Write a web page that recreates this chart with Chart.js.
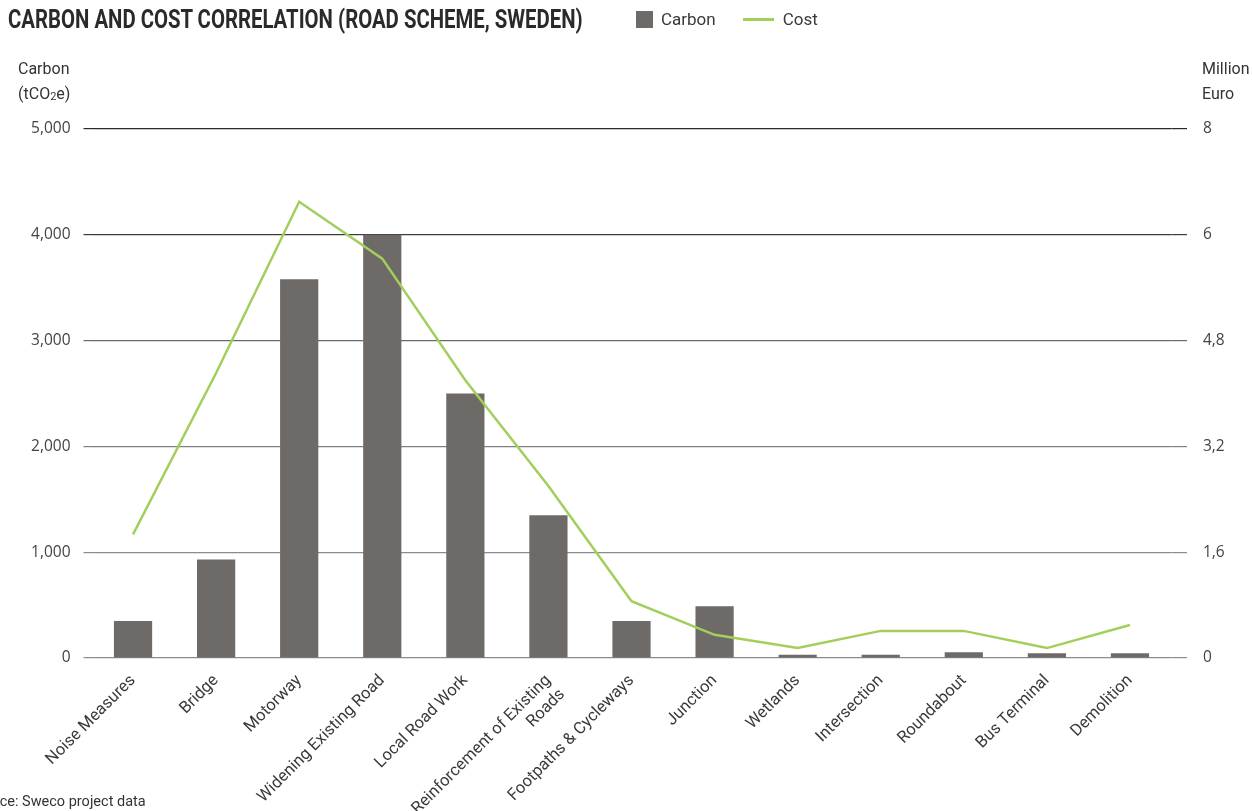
<!DOCTYPE html>
<html>
<head>
<meta charset="utf-8">
<script src="https://cdn.jsdelivr.net/npm/chart.js@4.4.1/dist/chart.umd.min.js"></script>
<style>
  body { margin: 0; background: #fff; }
  #page { position: relative; width: 1252px; height: 811px; overflow: hidden; font-family: Roboto, sans-serif; color: #333; }
  #myChart { position: absolute; left: 0; top: 0; }
  .title { position: absolute; left: 8px; top: 5px; font-weight: bold; font-size: 25px; white-space: nowrap; color: #2a2a2a; transform-origin: 0 0; }
  #legend { position: absolute; left: 636px; top: 9px; display: flex; align-items: center; font-size: 17px; color: #3a3a3a; }
  #legend .box { width: 17px; height: 17px; margin-right: 8px; }
  #legend .ln { width: 31px; height: 3px; margin-right: 9px; }
  #legend .txt { margin-right: 27px; }
  .unit { position: absolute; font-size: 16px; line-height: 25px; color: #333; }
  .source { position: absolute; top: 793px; font-size: 14.5px; color: #333; white-space: nowrap; }
</style>
</head>
<body>
<div id="page">
  <canvas id="myChart" width="1252" height="811"></canvas>
  <div class="title" id="title">CARBON AND COST CORRELATION (ROAD SCHEME, SWEDEN)</div>
  <div id="legend"></div>
  <div class="unit" style="left:18px;top:56px;">Carbon<br>(tCO<sub style="font-size:11px;vertical-align:-1px;">2</sub>e)</div>
  <div class="unit" style="left:1202px;top:56px;">Million<br>Euro</div>
  <div class="source" id="source"><span id="srcPre">Sour</span>ce: Sweco project data</div>
</div>
<script>
// chart data
var categories = ['Noise Measures', 'Bridge', 'Motorway', 'Widening Existing Road', 'Local Road Work',
    ['Reinforcement of Existing', 'Roads'], 'Footpaths & Cycleways', 'Junction', 'Wetlands',
    'Intersection', 'Roundabout', 'Bus Terminal', 'Demolition'];
var carbon = [350, 930, 3580, 4000, 2500, 1350, 350, 490, 30, 30, 55, 45, 45];
var cost = [1.87, 4.31, 6.9, 6.04, 4.2, 2.6, 0.86, 0.35, 0.15, 0.41, 0.41, 0.15, 0.5];
var carbonTicks = [0, 1000, 2000, 3000, 4000, 5000];
var costTicks = [0, 1.6, 3.2, 4.8, 6.4, 8];
var costTickLabels = ['0', '1,6', '3,2', '4,8', '6', '8'];

var barColor = '#6e6a67';
var lineColor = '#a2cf5c';
var gridColors = ['#8c8c8c', '#8c8c8c', '#808080', '#6a6a6a', '#3c3c3c', '#2a2a2a'];
var gridWidth = 1.2;
var tickFont = { family: "'Open Sans', sans-serif", size: 15.5 };

// grid lines run a little past the plot on the right, up to the cost labels
var rightTicks = {
    id: 'rightTicks',
    beforeDatasetsDraw: function(chart) {
        var s = chart.scales.y1;
        var c = chart.ctx;
        c.save();
        c.lineWidth = gridWidth;
        s.ticks.forEach(function(t, i) {
            // same pixel alignment as Chart.js uses for its own grid lines
            var y = Math.round(s.getPixelForValue(t.value) - gridWidth / 2) + gridWidth / 2;
            c.strokeStyle = gridColors[i];
            c.beginPath();
            c.moveTo(chart.chartArea.right, y);
            c.lineTo(chart.chartArea.right + 15.5, y);
            c.stroke();
        });
        c.restore();
    }
};

var ctx = document.getElementById('myChart').getContext('2d');
var chart = new Chart(ctx, {
    type: 'bar',
    data: {
        labels: categories,
        datasets: [{
            type: 'line',
            label: 'Cost',
            data: cost,
            yAxisID: 'y1',
            borderColor: lineColor,
            backgroundColor: lineColor,
            borderWidth: 2.5,
            pointRadius: 0,
            tension: 0,
            order: 1
        }, {
            label: 'Carbon',
            data: carbon,
            yAxisID: 'y',
            backgroundColor: barColor,
            categoryPercentage: 1,
            barPercentage: 0.46,
            order: 2
        }]
    },
    plugins: [rightTicks],
    options: {
        responsive: false,
        animation: false,
        layout: { padding: { top: 129, bottom: 0, left: 0, right: 0 } },
        plugins: {
            legend: { display: false },
            tooltip: { enabled: false }
        },
        scales: {
            x: {
                grid: { display: false },
                border: { display: false },
                ticks: {
                    minRotation: 45, maxRotation: 45, autoSkip: false,
                    font: { family: 'Roboto, sans-serif', size: 16.5 },
                    color: '#3a3a3a', padding: 5
                },
                afterFit: function(s) { s.height = 153; }
            },
            y: {
                position: 'left',
                min: 0, max: 5000,
                afterBuildTicks: function(s) { s.ticks = carbonTicks.map(function(v){ return { value: v }; }); },
                ticks: {
                    callback: function(v) { return v.toLocaleString('en-US'); },
                    font: tickFont, color: '#444', padding: 13
                },
                grid: {
                    color: function(c) { return gridColors[c.index] || '#888'; },
                    lineWidth: gridWidth, tickLength: 8
                },
                border: { display: false },
                afterFit: function(s) { s.width = 91.5; }
            },
            y1: {
                position: 'right',
                min: 0, max: 8,
                afterBuildTicks: function(s) { s.ticks = costTicks.map(function(v){ return { value: v }; }); },
                ticks: {
                    callback: function(v, i) { return costTickLabels[i]; },
                    font: tickFont, color: '#444', padding: 31.5
                },
                grid: { drawOnChartArea: false, drawTicks: false },
                border: { display: false },
                afterFit: function(s) { s.width = 80.5; }
            }
        }
    }
});

// legend built from the datasets (Carbon first, then Cost)
var legend = document.getElementById('legend');
[chart.data.datasets[1], chart.data.datasets[0]].forEach(function(ds) {
    var mark = document.createElement('span');
    mark.className = ds.type === 'line' ? 'ln' : 'box';
    mark.style.background = ds.type === 'line' ? ds.borderColor : ds.backgroundColor;
    var t = document.createElement('span');
    t.className = 'txt';
    t.textContent = ds.label;
    legend.appendChild(mark);
    legend.appendChild(t);
});

// squeeze the title to the condensed width of the original
var title = document.getElementById('title');
title.style.transform = 'scaleX(' + (575 / title.offsetWidth) + ')';

// source note is cut at the left edge like the original
var src = document.getElementById('source');
src.style.left = (-document.getElementById('srcPre').offsetWidth) + 'px';
</script>
</body>
</html>
